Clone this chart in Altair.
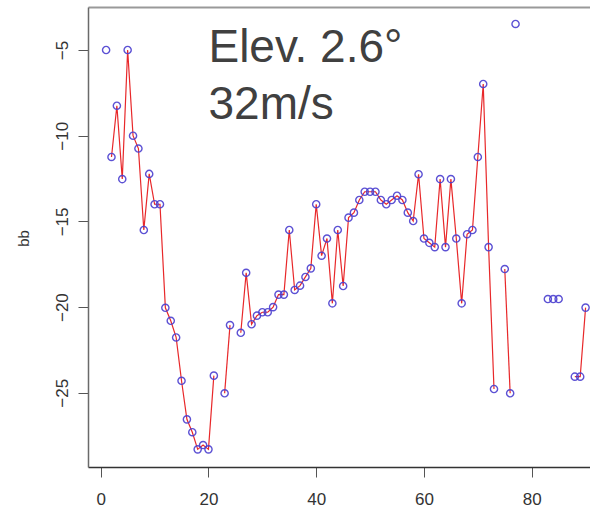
import altair as alt
import pandas as pd

# ---- data ----
x_idx = list(range(1, 91))
bb = [
    -5.0, -11.24, -8.25, -12.53, -5.0, -10.0, -10.75, -15.5, -12.23, -14.0,      # 1-10
    -14.0, -20.04, -20.8, -21.77, -24.3, -26.55, -27.3, -28.3, -28.05, -28.3,    # 11-20
    -24.0, None, -25.03, -21.05, None, -21.5, -18.0, -21.0, -20.5, -20.3,        # 21-30
    -20.3, -20.0, -19.27, -19.27, -15.5, -19.0, -18.75, -18.24, -17.74, -14.0,   # 31-40
    -17.0, -16.0, -19.78, -15.5, -18.77, -14.78, -14.49, -13.75, -13.27, -13.27, # 41-50
    -13.27, -13.75, -14.0, -13.75, -13.5, -13.75, -14.49, -14.98, -12.25, -16.0, # 51-60
    -16.25, -16.5, -12.53, -16.5, -12.53, -16.0, -19.78, -15.75, -15.5, -11.24,  # 61-70
    -6.98, -16.5, -24.78, None, -17.78, -25.03, -3.48, None, None, None,         # 71-80
    None, None, -19.53, -19.53, -19.53, None, None, -24.06, -24.06, -20.03,      # 81-90
]
# points drawn without a connecting line
point_only = [1, 77, 83, 84, 85]

x_ticks = [0, 20, 40, 60, 80]
y_ticks = [-25, -20, -15, -10, -5]

ann_text = ["Elev. 2.6°", "32m/s"]
ann_x = [20, 20]
ann_y = [-5.70, -9.03]

# ---- build tables ----
pts = pd.DataFrame({"x": x_idx, "bb": bb}).dropna()

line_rows = []
seg = 0
prev = None
for xv, yv in zip(x_idx, bb):
    if yv is None or xv in point_only:
        prev = None
        continue
    if prev is None or xv != prev + 1:
        seg += 1
    line_rows.append({"x": xv, "bb": yv, "seg": seg})
    prev = xv
lines = pd.DataFrame(line_rows)

ann = pd.DataFrame({"x": ann_x, "bb": ann_y, "t": ann_text})

FONT = "Liberation Sans"
FRAME = "#6a6a6a"

xscale = alt.Scale(domain=[-2.36, 90.82], nice=False, zero=False)
yscale = alt.Scale(domain=[-29.33, -2.49], nice=False, zero=False)

yaxis = alt.Axis(
    values=y_ticks, labelAngle=-90, labelAlign="center", labelBaseline="alphabetic",
    tickSize=10, labelPadding=11, labelFontSize=17, labelFont=FONT, labelColor="#333333",
    tickColor="#555555", domainColor=FRAME, domainWidth=1.5, grid=False,
    titleFont=FONT, titleFontSize=15, titleFontWeight="normal", titleColor="#333333",
    titleAngle=-90, titleAlign="center", titleBaseline="alphabetic", titleX=-60, titleY=231,
)

x_bottom = alt.Axis(
    values=x_ticks, tickSize=10, labelPadding=27, labelBaseline="alphabetic",
    labelFontSize=17, labelFont=FONT, labelColor="#333333", tickColor="#555555",
    domainColor="#333333", domainWidth=1.5, grid=False, title=None,
)
x_top = alt.Axis(
    orient="top", labels=False, ticks=False, domainColor="#999999", domainWidth=2,
    grid=False, title=None,
)

line_layer = alt.Chart(lines).mark_line(color="#e8282a", strokeWidth=1.2).encode(
    x=alt.X("x:Q", scale=xscale, axis=x_bottom),
    y=alt.Y("bb:Q", scale=yscale, axis=yaxis, title="bb"),
    detail="seg:N",
)

point_layer = alt.Chart(pts).mark_point(
    shape="circle", filled=False, size=52, strokeWidth=1.4, color="#4b3fd0", opacity=0.9
).encode(
    x=alt.X("x:Q", scale=xscale, axis=x_top),
    y=alt.Y("bb:Q", scale=yscale, axis=yaxis, title="bb"),
)

text_layer = alt.Chart(ann).mark_text(
    align="left", baseline="alphabetic", font=FONT, fontSize=46, color="#404040"
).encode(
    x=alt.X("x:Q", scale=xscale, axis=None),
    y=alt.Y("bb:Q", scale=yscale, axis=yaxis, title="bb"),
    text="t:N",
)

chart = (
    alt.layer(line_layer, point_layer, text_layer)
    .resolve_axis(x="independent")
    .properties(
        width=502, height=460,
        autosize=alt.AutoSizeParams(type="none"),
        padding={"left": 88, "top": 7, "right": 0, "bottom": 41},
        background="white",
    )
    .configure_view(stroke=None)
)

chart.save("out.html", embed_options={"renderer": "svg", "actions": False})
